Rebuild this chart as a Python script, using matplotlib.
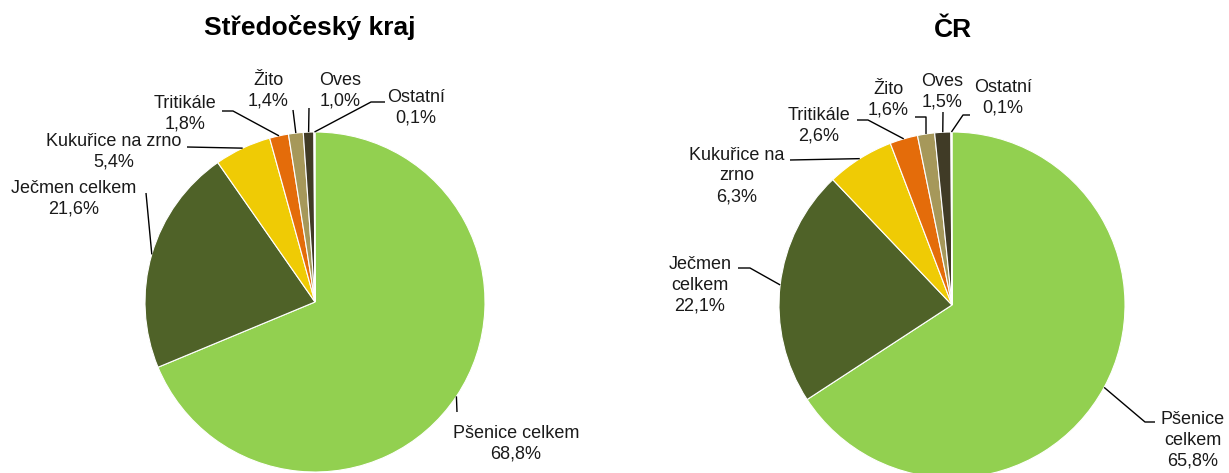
import numpy as np
import matplotlib
matplotlib.use("Agg")
import matplotlib.pyplot as plt

plt.rcParams['font.family'] = ['Liberation Sans', 'DejaVu Sans']

categories = ["Pšenice celkem", "Ječmen celkem", "Kukuřice na zrno", "Tritikále", "Žito", "Oves", "Ostatní"]
values_stc = [68.8, 21.6, 5.4, 1.8, 1.4, 1.0, 0.1]
values_cr = [65.8, 22.1, 6.3, 2.6, 1.6, 1.5, 0.1]
labels_stc = ["Pšenice celkem", "Ječmen celkem", "Kukuřice na zrno", "Tritikále", "Žito", "Oves", "Ostatní"]
labels_cr = ["Pšenice\ncelkem", "Ječmen\ncelkem", "Kukuřice na\nzrno", "Tritikále", "Žito", "Oves", "Ostatní"]
colors = ["#92D050", "#4F6228", "#EFCB05", "#E46C0A", "#A6985A", "#403B26", "#D9D9D9"]

W, H = 1229, 473
fig = plt.figure(figsize=(W / 100, H / 100), dpi=100)
ax = fig.add_axes([0, 0, 1, 1])


def Y(py):
    return H - py


def fmt(v):
    return f"{v:.1f}".replace(".", ",") + "%"


def draw_pie(values, labels, center, radius, title, title_pos, text_pos, leaders):
    cx, cy = center
    ax.pie(values, colors=colors, startangle=90, counterclock=False,
           center=(cx, Y(cy)), radius=radius,
           wedgeprops=dict(edgecolor="white", linewidth=0.8))
    total = sum(values)
    cum = np.cumsum([0] + list(values))
    for i, (v, lab) in enumerate(zip(values, labels)):
        frac = (cum[i] + v / 2) / total
        theta = np.deg2rad(90 - 360 * frac)
        px = cx + radius * np.cos(theta)
        py = cy - radius * np.sin(theta)
        pts = leaders[i] + [(px, py)]
        xs = [p[0] for p in pts]
        ys = [Y(p[1]) for p in pts]
        ax.plot(xs, ys, color="black", lw=1.0, solid_capstyle="butt", zorder=5)
        tx, ty = text_pos[i]
        ax.text(tx, Y(ty), f"{lab}\n{fmt(v)}", ha="center", va="center",
                multialignment="center", fontsize=13, linespacing=1.3, color="#1a1a1a")
    ax.text(title_pos[0], Y(title_pos[1]), title, ha="center", va="center",
            fontsize=19, fontweight="bold", color="black")


draw_pie(values_stc, labels_stc, (315, 302), 170, "Středočeský kraj", (310, 28),
         [(516, 444), (74, 199), (114, 152), (185, 114), (268, 91), (340, 91), (416, 108)],
         [[(457, 412)], [(146, 193)], [(187, 147)], [(222, 111), (233, 111)],
          [(293, 110)], [(309, 108)], [(385, 102), (371, 102)]])

draw_pie(values_cr, labels_cr, (952, 305), 173, "ČR", (953, 30),
         [(1193, 440), (700, 285), (737, 176), (819, 126), (888, 100), (942, 92), (1003, 98)],
         [[(1155, 422), (1145, 422)], [(738, 268), (750, 268)], [(790, 160)],
          [(857, 120), (868, 120)], [(915, 117), (926, 117)], [(943, 112)],
          [(970, 115), (963, 115)]])

ax.set_aspect("auto")
ax.set_xlim(0, W)
ax.set_ylim(0, H)
ax.axis("off")
fig.savefig("out.png", dpi=100)
